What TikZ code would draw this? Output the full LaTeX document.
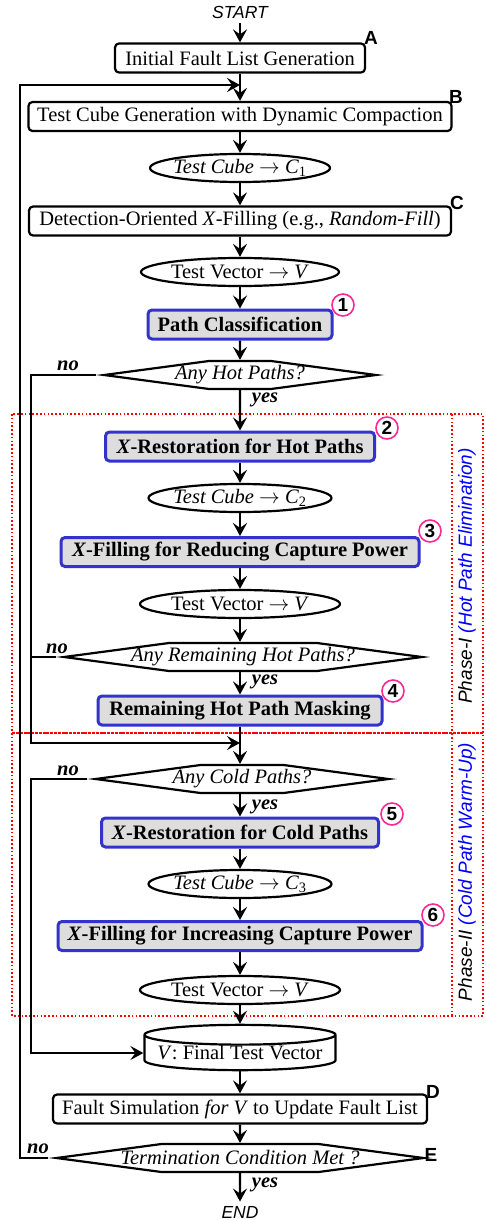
\documentclass[tikz,border=0pt]{standalone}
\usepackage{fontspec}
\setmainfont{Liberation Serif}
\setsansfont{Liberation Sans}
\usetikzlibrary{arrows.meta,shapes.geometric,shapes.symbols}

\definecolor{keyblue}{RGB}{51,51,204}
\definecolor{keygray}{RGB}{221,221,221}
\definecolor{tagpink}{RGB}{255,40,150}

\newcommand{\hexbody}[2]{\makebox[#1][c]{#2}}

\begin{document}
\begin{tikzpicture}
[
    x=1pt, y=-1pt,
    font=\fontsize{20.5}{24}\selectfont,
    line width=2.2pt,
    >={Stealth[length=13pt,width=14pt,inset=5pt]},
    proc/.style={draw, rounded corners=4pt, minimum height=29pt, inner sep=0pt},
    keybox/.style={draw=keyblue, fill=keygray, line width=3pt, rounded corners=4pt,
        minimum height=29pt, inner sep=0pt, font=\fontsize{20.5}{24}\selectfont\bfseries},
    datum/.style={ellipse, draw, inner xsep=-4pt, inner ysep=0pt, minimum height=28pt},
    decision/.style={signal, signal to=west and east, signal pointer angle=15.2, draw,
        minimum height=28pt, inner sep=0pt, font=\fontsize{20.5}{24}\selectfont\itshape},
    store/.style={cylinder, shape border rotate=90, aspect=0.12, draw,
        minimum width=191pt, minimum height=35pt, inner sep=0pt},
    tag/.style={circle, draw=tagpink, line width=1.6pt, minimum size=22pt, inner sep=0pt,
        font=\sffamily\bfseries\fontsize{19}{19}\selectfont},
    corner/.style={font=\sffamily\bfseries\fontsize{19}{19}\selectfont},
    ans/.style={font=\fontsize{20.5}{24}\selectfont\bfseries\itshape},
    endpoint/.style={font=\sffamily\itshape\fontsize{17.5}{20}\selectfont},
    phase/.style={draw=red, dash pattern=on 1.6pt off 2.2pt, line width=1.6pt},
]
\useasboundingbox (0,0) rectangle (485,1220);

% phase frames
\draw[phase] (12,414) rectangle (483,733);
\draw[phase] (12,733) rectangle (483,1016);
\draw[phase] (452,414) -- (452,1016);
\node[endpoint, font=\sffamily\itshape\fontsize{19}{22}\selectfont, rotate=90] (ph1) at (467,576)
    {Phase-I \textcolor{blue}{(Hot Path Elimination)}};
\node[endpoint, font=\sffamily\itshape\fontsize{19}{22}\selectfont, rotate=90] (ph2) at (467,872)
    {Phase-II \textcolor{blue}{(Cold Path Warm-Up)}};

% main flow
\node[endpoint] (start) at (240,12) {START};
\node[proc, minimum width=250pt] (gen) at (240,58) {Initial Fault List Generation};
\node[proc, minimum width=423pt] (atpg) at (240,116.5) {Test Cube Generation with Dynamic Compaction};
\node[datum, minimum width=180pt] (cube1) at (240,168) {\textit{Test Cube} $\rightarrow$ \textit{C}\textsubscript{1}};
\node[proc, minimum width=422pt] (fill) at (240,221) {Detection-Oriented \textit{X}-Filling (e.g., \textit{Random-Fill})};
\node[datum, minimum width=198pt] (vec1) at (240,272) {Test Vector $\rightarrow$ \textit{V}};
\node[keybox, minimum width=184pt] (classify) at (240,324.5) {Path Classification};
\node[decision] (hot) at (240,375) {\hexbody{62pt}{Any Hot Paths?}};
\node[keybox, minimum width=269pt] (hotrest) at (240,446.5) {\textit{X}-Restoration for Hot Paths};
\node[datum, minimum width=183pt] (cube2) at (240,498) {\textit{Test Cube} $\rightarrow$ \textit{C}\textsubscript{2}};
\node[keybox, minimum width=358pt] (hotfill) at (240,552) {\textit{X}-Filling for Reducing Capture Power};
\node[datum, minimum width=200pt] (vec2) at (240,604) {Test Vector $\rightarrow$ \textit{V}};
\node[decision] (remain) at (243,657) {\hexbody{148pt}{Any Remaining Hot Paths?}};
\node[keybox, minimum width=284pt] (mask) at (240,710.5) {Remaining Hot Path Masking};
\node[decision] (cold) at (242,779) {\hexbody{83pt}{Any Cold Paths?}};
\node[keybox, minimum width=277pt] (coldrest) at (240,832.5) {\textit{X}-Restoration for Cold Paths};
\node[datum, minimum width=183pt] (cube3) at (240,884) {\textit{Test Cube} $\rightarrow$ \textit{C}\textsubscript{3}};
\node[keybox, minimum width=364pt] (coldfill) at (240,936) {\textit{X}-Filling for Increasing Capture Power};
\node[datum, minimum width=200pt] (vec3) at (240,990) {Test Vector $\rightarrow$ \textit{V}};
\node[store] (final) at (240,1053) {\textit{V}: Final Test Vector};
\node[proc, minimum width=374pt] (fsim) at (240,1109) {Fault Simulation \textit{for V} to Update Fault List};
\node[decision] (stop) at (240,1158) {\hexbody{157pt}{Termination Condition Met ?}};
\node[endpoint] (end) at (240,1212) {END};

% step tags and corner letters
\node[tag] (t1) at (343,305) {1};
\node[tag] (t2) at (387,428) {2};
\node[tag] (t3) at (430,531) {3};
\node[tag] (t4) at (393,691) {4};
\node[tag] (t5) at (392,814) {5};
\node[tag] (t6) at (433,915) {6};
\node[corner] (la) at (371,38) {A};
\node[corner] (lb) at (456,97) {B};
\node[corner] (lc) at (457,203) {C};
\node[corner] (ld) at (433,1092) {D};
\node[corner] (le) at (431,1155) {E};

% yes / no
\node[ans] (no1) at (68,366) {no};
\node[ans] (yes1) at (265,400) {yes};
\node[ans] (no2) at (57,649) {no};
\node[ans] (yes2) at (265,682) {yes};
\node[ans] (no3) at (68,771) {no};
\node[ans] (yes3) at (265,807) {yes};
\node[ans] (no4) at (38,1149) {no};
\node[ans] (yes4) at (265,1185) {yes};

% rails and joins
\coordinate (railL) at (20,0);
\coordinate (railM) at (31,0);
\coordinate (joinA) at (240,85);
\coordinate (joinM) at (240,743);

% connectors
\draw[->] (start) -- (gen);
\draw[->] (gen) -- (atpg);
\draw[->] (atpg) -- (cube1);
\draw[->] (cube1) -- (fill);
\draw[->] (fill) -- (vec1);
\draw[->] (vec1) -- (classify);
\draw[->] (classify) -- (hot);
\draw[->] (hot) -- (hotrest);
\draw[->] (hotrest) -- (cube2);
\draw[->] (cube2) -- (hotfill);
\draw[->] (hotfill) -- (vec2);
\draw[->] (vec2) -- (vec2 |- remain.north);
\draw[->] (remain.south -| mask) -- (mask);
\draw[->] (mask) -- (mask |- cold.north);
\draw[->] (cold.south -| coldrest) -- (coldrest);
\draw[->] (coldrest) -- (cube3);
\draw[->] (cube3) -- (coldfill);
\draw[->] (coldfill) -- (vec3);
\draw[->] (vec3) -- (final);
\draw[->] (final) -- (fsim);
\draw[->] (fsim) -- (stop);
\draw[->] (stop) -- (end);
\draw[->] (hot.west) -- (hot.west -| railM) |- (joinM);
\draw (remain.west) -- (remain.west -| railM);
\draw[->] (cold.west) -- (cold.west -| railM) |- (final.west);
\draw[->] (stop.west) -- (stop.west -| railL) |- (joinA);
\end{tikzpicture}
\end{document}
